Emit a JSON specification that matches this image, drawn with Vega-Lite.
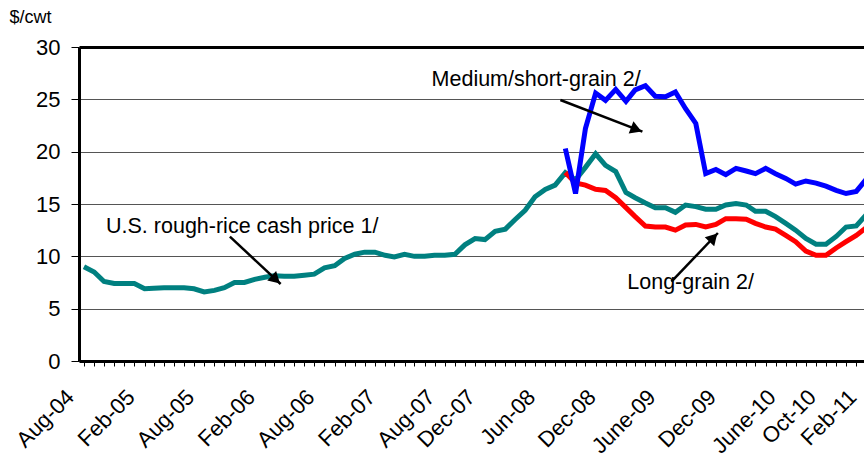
{
  "$schema": "https://vega.github.io/schema/vega-lite/v6.json",
  "width": 800,
  "height": 314,
  "autosize": {"type": "none"},
  "padding": {"left": 79, "top": 47, "right": 0, "bottom": 99},
  "background": "white",
  "config": {
    "view": {"stroke": null},
    "font": "Liberation Sans",
    "text": {"font": "Liberation Sans"}
  },
  "datasets": {
    "prices": [
      {"date": "2004-08-01", "series": "cash", "value": 9.0},
      {"date": "2004-09-01", "series": "cash", "value": 8.5},
      {"date": "2004-10-01", "series": "cash", "value": 7.6},
      {"date": "2004-11-01", "series": "cash", "value": 7.4},
      {"date": "2004-12-01", "series": "cash", "value": 7.4},
      {"date": "2005-01-01", "series": "cash", "value": 7.4},
      {"date": "2005-02-01", "series": "cash", "value": 6.9},
      {"date": "2005-03-01", "series": "cash", "value": 6.95},
      {"date": "2005-04-01", "series": "cash", "value": 7.0},
      {"date": "2005-05-01", "series": "cash", "value": 7.0},
      {"date": "2005-06-01", "series": "cash", "value": 7.0},
      {"date": "2005-07-01", "series": "cash", "value": 6.9},
      {"date": "2005-08-01", "series": "cash", "value": 6.6},
      {"date": "2005-09-01", "series": "cash", "value": 6.75},
      {"date": "2005-10-01", "series": "cash", "value": 7.0},
      {"date": "2005-11-01", "series": "cash", "value": 7.5},
      {"date": "2005-12-01", "series": "cash", "value": 7.5},
      {"date": "2006-01-01", "series": "cash", "value": 7.8},
      {"date": "2006-02-01", "series": "cash", "value": 8.0},
      {"date": "2006-03-01", "series": "cash", "value": 8.15},
      {"date": "2006-04-01", "series": "cash", "value": 8.1},
      {"date": "2006-05-01", "series": "cash", "value": 8.1},
      {"date": "2006-06-01", "series": "cash", "value": 8.2},
      {"date": "2006-07-01", "series": "cash", "value": 8.3},
      {"date": "2006-08-01", "series": "cash", "value": 8.9},
      {"date": "2006-09-01", "series": "cash", "value": 9.1},
      {"date": "2006-10-01", "series": "cash", "value": 9.8},
      {"date": "2006-11-01", "series": "cash", "value": 10.2},
      {"date": "2006-12-01", "series": "cash", "value": 10.4},
      {"date": "2007-01-01", "series": "cash", "value": 10.4},
      {"date": "2007-02-01", "series": "cash", "value": 10.1},
      {"date": "2007-03-01", "series": "cash", "value": 9.95},
      {"date": "2007-04-01", "series": "cash", "value": 10.2},
      {"date": "2007-05-01", "series": "cash", "value": 10.0},
      {"date": "2007-06-01", "series": "cash", "value": 10.0},
      {"date": "2007-07-01", "series": "cash", "value": 10.1},
      {"date": "2007-08-01", "series": "cash", "value": 10.1},
      {"date": "2007-09-01", "series": "cash", "value": 10.2},
      {"date": "2007-10-01", "series": "cash", "value": 11.1},
      {"date": "2007-11-01", "series": "cash", "value": 11.7},
      {"date": "2007-12-01", "series": "cash", "value": 11.6},
      {"date": "2008-01-01", "series": "cash", "value": 12.4},
      {"date": "2008-02-01", "series": "cash", "value": 12.6},
      {"date": "2008-03-01", "series": "cash", "value": 13.5},
      {"date": "2008-04-01", "series": "cash", "value": 14.4},
      {"date": "2008-05-01", "series": "cash", "value": 15.7},
      {"date": "2008-06-01", "series": "cash", "value": 16.4},
      {"date": "2008-07-01", "series": "cash", "value": 16.8},
      {"date": "2008-08-01", "series": "cash", "value": 18.0},
      {"date": "2008-09-01", "series": "cash", "value": 17.3},
      {"date": "2008-10-01", "series": "cash", "value": 18.5},
      {"date": "2008-11-01", "series": "cash", "value": 19.8},
      {"date": "2008-12-01", "series": "cash", "value": 18.7},
      {"date": "2009-01-01", "series": "cash", "value": 18.1},
      {"date": "2009-02-01", "series": "cash", "value": 16.1},
      {"date": "2009-03-01", "series": "cash", "value": 15.6},
      {"date": "2009-04-01", "series": "cash", "value": 15.1},
      {"date": "2009-05-01", "series": "cash", "value": 14.65},
      {"date": "2009-06-01", "series": "cash", "value": 14.65},
      {"date": "2009-07-01", "series": "cash", "value": 14.2},
      {"date": "2009-08-01", "series": "cash", "value": 14.9},
      {"date": "2009-09-01", "series": "cash", "value": 14.75},
      {"date": "2009-10-01", "series": "cash", "value": 14.5},
      {"date": "2009-11-01", "series": "cash", "value": 14.5},
      {"date": "2009-12-01", "series": "cash", "value": 14.9},
      {"date": "2010-01-01", "series": "cash", "value": 15.05},
      {"date": "2010-02-01", "series": "cash", "value": 14.9},
      {"date": "2010-03-01", "series": "cash", "value": 14.3},
      {"date": "2010-04-01", "series": "cash", "value": 14.3},
      {"date": "2010-05-01", "series": "cash", "value": 13.8},
      {"date": "2010-06-01", "series": "cash", "value": 13.15},
      {"date": "2010-07-01", "series": "cash", "value": 12.5},
      {"date": "2010-08-01", "series": "cash", "value": 11.7},
      {"date": "2010-09-01", "series": "cash", "value": 11.15},
      {"date": "2010-10-01", "series": "cash", "value": 11.15},
      {"date": "2010-11-01", "series": "cash", "value": 11.9},
      {"date": "2010-12-01", "series": "cash", "value": 12.8},
      {"date": "2011-01-01", "series": "cash", "value": 12.9},
      {"date": "2011-02-01", "series": "cash", "value": 14.0},
      {"date": "2008-08-01", "series": "long", "value": 18.0},
      {"date": "2008-09-01", "series": "long", "value": 17.0},
      {"date": "2008-10-01", "series": "long", "value": 16.8},
      {"date": "2008-11-01", "series": "long", "value": 16.4},
      {"date": "2008-12-01", "series": "long", "value": 16.3},
      {"date": "2009-01-01", "series": "long", "value": 15.6},
      {"date": "2009-02-01", "series": "long", "value": 14.65},
      {"date": "2009-03-01", "series": "long", "value": 13.8},
      {"date": "2009-04-01", "series": "long", "value": 12.9},
      {"date": "2009-05-01", "series": "long", "value": 12.8},
      {"date": "2009-06-01", "series": "long", "value": 12.8},
      {"date": "2009-07-01", "series": "long", "value": 12.5},
      {"date": "2009-08-01", "series": "long", "value": 13.0},
      {"date": "2009-09-01", "series": "long", "value": 13.05},
      {"date": "2009-10-01", "series": "long", "value": 12.8},
      {"date": "2009-11-01", "series": "long", "value": 13.05},
      {"date": "2009-12-01", "series": "long", "value": 13.6},
      {"date": "2010-01-01", "series": "long", "value": 13.6},
      {"date": "2010-02-01", "series": "long", "value": 13.55},
      {"date": "2010-03-01", "series": "long", "value": 13.15},
      {"date": "2010-04-01", "series": "long", "value": 12.8},
      {"date": "2010-05-01", "series": "long", "value": 12.6},
      {"date": "2010-06-01", "series": "long", "value": 12.0},
      {"date": "2010-07-01", "series": "long", "value": 11.4},
      {"date": "2010-08-01", "series": "long", "value": 10.5},
      {"date": "2010-09-01", "series": "long", "value": 10.1},
      {"date": "2010-10-01", "series": "long", "value": 10.1},
      {"date": "2010-11-01", "series": "long", "value": 10.8},
      {"date": "2010-12-01", "series": "long", "value": 11.4},
      {"date": "2011-01-01", "series": "long", "value": 12.0},
      {"date": "2011-02-01", "series": "long", "value": 12.75},
      {"date": "2008-08-01", "series": "medium", "value": 20.3},
      {"date": "2008-09-01", "series": "medium", "value": 16.0},
      {"date": "2008-10-01", "series": "medium", "value": 22.2},
      {"date": "2008-11-01", "series": "medium", "value": 25.6},
      {"date": "2008-12-01", "series": "medium", "value": 24.9},
      {"date": "2009-01-01", "series": "medium", "value": 25.95},
      {"date": "2009-02-01", "series": "medium", "value": 24.8},
      {"date": "2009-03-01", "series": "medium", "value": 25.9},
      {"date": "2009-04-01", "series": "medium", "value": 26.3},
      {"date": "2009-05-01", "series": "medium", "value": 25.3},
      {"date": "2009-06-01", "series": "medium", "value": 25.25},
      {"date": "2009-07-01", "series": "medium", "value": 25.7},
      {"date": "2009-08-01", "series": "medium", "value": 24.1},
      {"date": "2009-09-01", "series": "medium", "value": 22.7},
      {"date": "2009-10-01", "series": "medium", "value": 17.9},
      {"date": "2009-11-01", "series": "medium", "value": 18.3},
      {"date": "2009-12-01", "series": "medium", "value": 17.8},
      {"date": "2010-01-01", "series": "medium", "value": 18.4},
      {"date": "2010-02-01", "series": "medium", "value": 18.15},
      {"date": "2010-03-01", "series": "medium", "value": 17.9},
      {"date": "2010-04-01", "series": "medium", "value": 18.4},
      {"date": "2010-05-01", "series": "medium", "value": 17.9},
      {"date": "2010-06-01", "series": "medium", "value": 17.45},
      {"date": "2010-07-01", "series": "medium", "value": 16.9},
      {"date": "2010-08-01", "series": "medium", "value": 17.2},
      {"date": "2010-09-01", "series": "medium", "value": 17.0},
      {"date": "2010-10-01", "series": "medium", "value": 16.7},
      {"date": "2010-11-01", "series": "medium", "value": 16.3},
      {"date": "2010-12-01", "series": "medium", "value": 16.0},
      {"date": "2011-01-01", "series": "medium", "value": 16.2},
      {"date": "2011-02-01", "series": "medium", "value": 17.4}
    ],
    "labels": [
      {"date": "2004-10-07", "value": 12.8, "text": "U.S. rough-rice cash price 1/"},
      {"date": "2007-06-22", "value": 26.85, "text": "Medium/short-grain 2/"},
      {"date": "2009-02-05", "value": 7.45, "text": "Long-grain 2/"}
    ],
    "arrows": [
      {"name": "cash", "date": "2005-10-18", "value": 11.88, "date2": "2006-03-21", "value2": 7.36},
      {"name": "medium", "date": "2008-07-17", "value": 24.94, "date2": "2009-03-23", "value2": 21.91},
      {"name": "long", "date": "2009-06-19", "value": 7.58, "date2": "2009-11-07", "value2": 12.23}
    ]
  },
  "data": {"name": "prices"},
  "encoding": {
    "x": {
      "field": "date",
      "type": "temporal",
      "scale": {
        "type": "utc",
        "domain": [
          {"year": 2004, "month": 7, "date": 17, "utc": true},
          {"year": 2011, "month": 3, "date": 11, "utc": true}
        ]
      },
      "axis": {
        "title": null,
        "grid": false,
        "tickCount": {"interval": "month", "step": 1},
        "labelOverlap": false,
        "labelFlush": false,
        "labelAngle": -45,
        "labelFont": "Liberation Sans",
        "labelFontSize": 22,
        "labelColor": "black",
        "labelPadding": 20,
        "labelOffset": -21,
        "labelExpr": "indexof(['Aug-04','Feb-05','Aug-05','Feb-06','Aug-06','Feb-07','Aug-07','Dec-07','Jun-08','Dec-08','Jun-09','Dec-09','Jun-10','Oct-10','Feb-11'], utcFormat(datum.value, '%b-%y')) < 0 ? '' : (utcFormat(datum.value, '%b-%y') == 'Jun-09' ? 'June-09' : (utcFormat(datum.value, '%b-%y') == 'Jun-10' ? 'June-10' : utcFormat(datum.value, '%b-%y')))",
        "domainColor": "black",
        "domainWidth": 3,
        "tickColor": "black",
        "tickWidth": 1,
        "tickSize": 5
      }
    },
    "y": {
      "field": "value",
      "type": "quantitative",
      "scale": {"domain": [0, 30], "nice": false, "zero": true},
      "axis": {
        "title": "$/cwt",
        "titleAngle": 0,
        "titleAlign": "left",
        "titleBaseline": "middle",
        "titleX": -70,
        "titleY": -30,
        "titleFont": "Liberation Sans",
        "titleFontSize": 18,
        "titleFontWeight": "normal",
        "titleColor": "black",
        "values": [0, 5, 10, 15, 20, 25, 30],
        "labelFont": "Liberation Sans",
        "labelFontSize": 22,
        "labelColor": "black",
        "labelPadding": 11,
        "domainColor": "black",
        "domainWidth": 3,
        "tickColor": "black",
        "tickWidth": 1,
        "tickSize": 8,
        "grid": true,
        "gridColor": {"condition": {"test": "datum.value == 30", "value": "black"}, "value": "#555555"},
        "gridWidth": {"condition": {"test": "datum.value == 30", "value": 3}, "value": 1}
      }
    }
  },
  "layer": [
    {
      "transform": [{"filter": "datum.series == 'cash'"}],
      "mark": {"type": "line", "color": "#008080", "strokeWidth": 5, "clip": true}
    },
    {
      "transform": [{"filter": "datum.series == 'long'"}],
      "mark": {"type": "line", "color": "#FF0000", "strokeWidth": 5, "clip": true}
    },
    {
      "transform": [{"filter": "datum.series == 'medium'"}],
      "mark": {"type": "line", "color": "#0000FF", "strokeWidth": 5, "clip": true}
    },
    {
      "data": {"name": "labels"},
      "mark": {"type": "text", "align": "left", "baseline": "middle", "font": "Liberation Sans", "fontSize": 21.5, "color": "black"},
      "encoding": {"text": {"field": "text"}}
    },
    {
      "data": {"name": "arrows"},
      "mark": {"type": "rule", "color": "black", "strokeWidth": 2.5},
      "encoding": {
        "x2": {"field": "date2"},
        "y2": {"field": "value2"}
      }
    },
    {
      "data": {"name": "arrows"},
      "transform": [{"filter": "datum.name == 'cash'"}],
      "mark": {"type": "point", "shape": "triangle-up", "filled": true, "color": "black", "opacity": 1, "size": 170, "angle": 132.7, "xOffset": -4.8, "yOffset": -4.4},
      "encoding": {
        "x": {"field": "date2", "type": "temporal"},
        "y": {"field": "value2", "type": "quantitative"}
      }
    },
    {
      "data": {"name": "arrows"},
      "transform": [{"filter": "datum.name == 'medium'"}],
      "mark": {"type": "point", "shape": "triangle-up", "filled": true, "color": "black", "opacity": 1, "size": 170, "angle": 111.1, "xOffset": -6.1, "yOffset": -2.3},
      "encoding": {
        "x": {"field": "date2", "type": "temporal"},
        "y": {"field": "value2", "type": "quantitative"}
      }
    },
    {
      "data": {"name": "arrows"},
      "transform": [{"filter": "datum.name == 'long'"}],
      "mark": {"type": "point", "shape": "triangle-up", "filled": true, "color": "black", "opacity": 1, "size": 170, "angle": 43.6, "xOffset": -4.5, "yOffset": 4.7},
      "encoding": {
        "x": {"field": "date2", "type": "temporal"},
        "y": {"field": "value2", "type": "quantitative"}
      }
    }
  ]
}
